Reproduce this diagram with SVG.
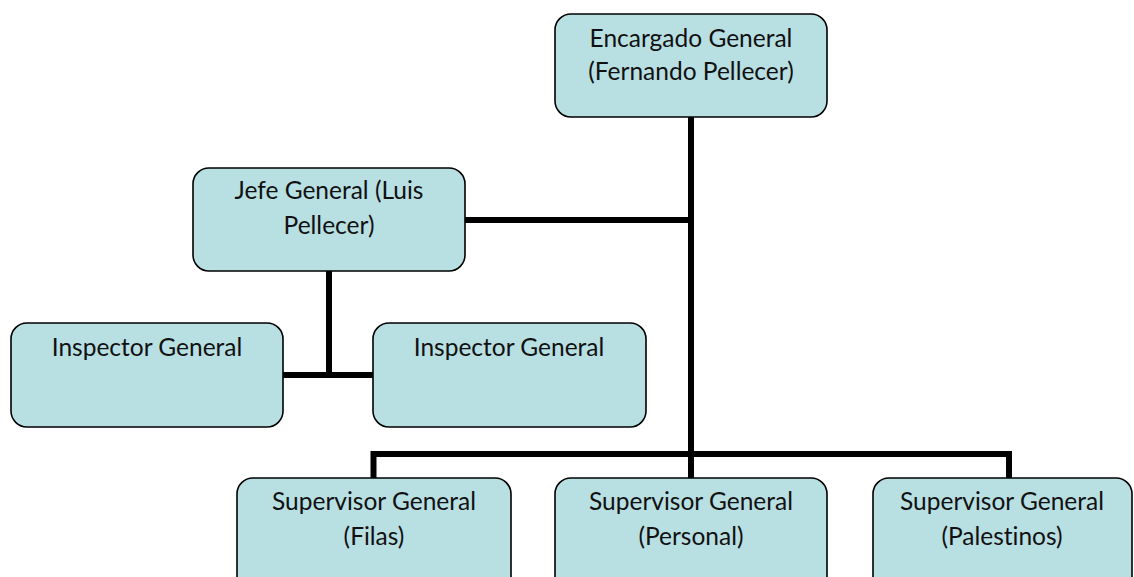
<svg xmlns="http://www.w3.org/2000/svg" width="1134" height="577" viewBox="0 0 1134 577">
<style>
.box{fill:#b8dfe2;stroke:#000;stroke-width:1.6}
.lbl{font-family:Lato,"Open Sans",sans-serif;font-size:24.5px;fill:#111;text-anchor:middle;font-variant-ligatures:none}
.conn{fill:none;stroke:#000;stroke-width:6;stroke-linejoin:miter;stroke-linecap:butt}
</style>
<rect width="1134" height="577" fill="#fff"/>
<g id="connectors">
<path class="conn" d="M691 116 V454"/>
<path class="conn" d="M465 220 H691"/>
<path class="conn" d="M373.5 478 V454 H1009 V478"/>
<path class="conn" d="M691 454 V478"/>
<path class="conn" d="M329 271 V375"/>
<path class="conn" d="M283 375 H373"/>
</g>
<g id="encargado">
<rect class="box" x="555" y="14" width="272" height="103" rx="16"/>
<text class="lbl" x="691" y="47">Encargado General</text>
<text class="lbl" x="691" y="80">(Fernando Pellecer)</text>
</g>
<g id="jefe">
<rect class="box" x="193" y="168" width="272" height="103" rx="16"/>
<text class="lbl" x="329" y="199">Jefe General (Luis</text>
<text class="lbl" x="329" y="234">Pellecer)</text>
</g>
<g id="inspector1">
<rect class="box" x="11" y="323" width="272" height="104" rx="16"/>
<text class="lbl" x="147" y="356">Inspector General</text>
</g>
<g id="inspector2">
<rect class="box" x="373" y="323" width="273" height="104" rx="16"/>
<text class="lbl" x="509" y="356">Inspector General</text>
</g>
<g id="supervisor1">
<rect class="box" x="237" y="478" width="274" height="120" rx="16"/>
<text class="lbl" x="374" y="510">Supervisor General</text>
<text class="lbl" x="374" y="545">(Filas)</text>
</g>
<g id="supervisor2">
<rect class="box" x="555" y="478" width="272" height="120" rx="16"/>
<text class="lbl" x="691" y="510">Supervisor General</text>
<text class="lbl" x="691" y="545">(Personal)</text>
</g>
<g id="supervisor3">
<rect class="box" x="873" y="478" width="259" height="120" rx="16"/>
<text class="lbl" x="1002" y="510">Supervisor General</text>
<text class="lbl" x="1002" y="545">(Palestinos)</text>
</g>
</svg>
